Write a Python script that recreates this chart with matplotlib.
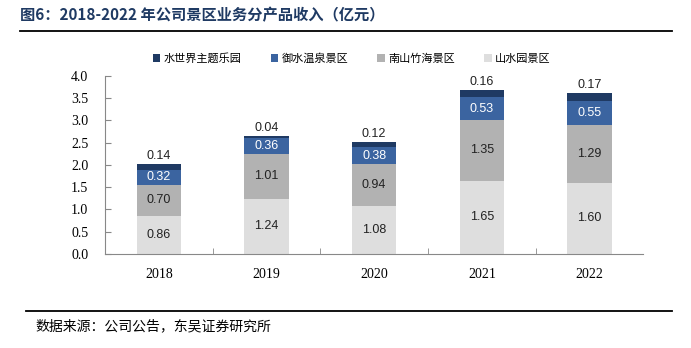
import numpy as np
import matplotlib
matplotlib.use('Agg')
import matplotlib.pyplot as plt
from matplotlib.lines import Line2D

plt.rcParams['font.family'] = ['Noto Sans CJK SC', 'DejaVu Sans']

years = ['2018', '2019', '2020', '2021', '2022']
shanshui = [0.86, 1.24, 1.08, 1.65, 1.60]
nanshan = [0.70, 1.01, 0.94, 1.35, 1.29]
yushui = [0.32, 0.36, 0.38, 0.53, 0.55]
shuishijie = [0.14, 0.04, 0.12, 0.16, 0.17]

names = ['水世界主题乐园', '御水温泉景区', '南山竹海景区', '山水园景区']
colors = ['#1f3a63', '#3b64a0', '#b2b2b2', '#dedede']

fig = plt.figure(figsize=(6.91, 3.48), dpi=100)
ax = fig.add_axes([0.152, 0.270, 0.779, 0.512])

x = np.arange(len(years))
w = 0.41
bottom = np.zeros(len(years))
series = [shanshui, nanshan, yushui, shuishijie]
cols = [colors[3], colors[2], colors[1], colors[0]]
labs = [names[3], names[2], names[1], names[0]]
bars = {}
for vals, c, lab in zip(series, cols, labs):
    vals = np.array(vals)
    bars[lab] = ax.bar(x, vals, w, bottom=bottom, color=c, label=lab)
    for i, v in enumerate(vals):
        if lab == names[0]:
            ax.text(x[i], bottom[i] + v + 0.04, f'{v:.2f}', ha='center', va='bottom',
                    fontsize=9, family='Liberation Sans', color='#222222')
        else:
            tc = 'white' if lab == names[1] else '#222222'
            ax.text(x[i], bottom[i] + v / 2, f'{v:.2f}', ha='center', va='center',
                    fontsize=9, family='Liberation Sans', color=tc)
    bottom = bottom + vals

ax.set_xlim(-0.5, 4.5)
ax.set_ylim(0, 4.0)
ax.set_yticks(np.arange(0, 4.01, 0.5))
ax.set_yticklabels([f'{t:.1f}' for t in np.arange(0, 4.01, 0.5)], family='Liberation Serif', fontsize=10)
ax.set_xticks(x)
ax.set_xticklabels(years, family='Liberation Serif', fontsize=10)
ax.set_xticks(np.arange(0.5, 4.5, 1.0), minor=True)
ax.tick_params(axis='x', which='major', length=0, pad=10)
ax.tick_params(axis='x', which='minor', direction='in', length=4, color='#888888')
ax.tick_params(axis='y', direction='in', length=4, color='#888888', pad=12)
for s in ['top', 'right']:
    ax.spines[s].set_visible(False)
for s in ['left', 'bottom']:
    ax.spines[s].set_color('#888888')
    ax.spines[s].set_linewidth(0.8)

handles = [bars[n] for n in names]
ax.legend(handles, names, ncol=4, loc='lower left', bbox_to_anchor=(0.07, 1.01),
          frameon=False, fontsize=8, handlelength=0.7, handleheight=0.7,
          handletextpad=0.3, columnspacing=2.6)

fig.text(0.029, 0.955, '图6：2018-2022 年公司景区业务分产品收入（亿元）', fontsize=11,
         fontweight='bold', color='#1f3a63', va='center')
fig.add_artist(Line2D([0.029, 0.973], [0.911, 0.911], color='black', lw=1.3))
fig.add_artist(Line2D([0.037, 0.973], [0.106, 0.106], color='black', lw=1.3))
fig.text(0.052, 0.063, '数据来源：公司公告，东吴证券研究所', fontsize=10, va='center')

fig.savefig('out.png', dpi=100)
